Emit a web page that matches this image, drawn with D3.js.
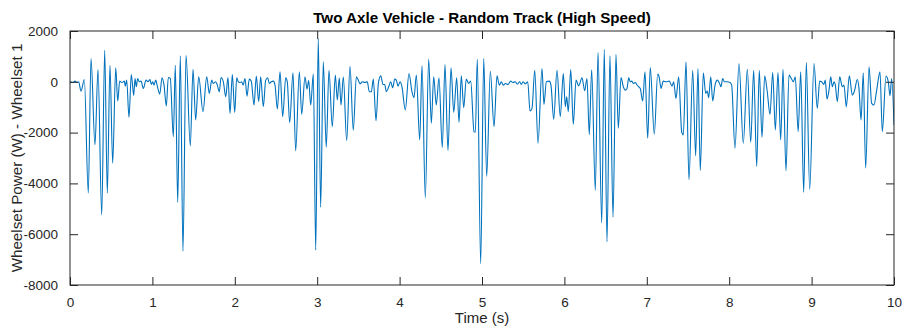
<!DOCTYPE html>
<html>
<head>
<meta charset="utf-8">
<script src="https://cdn.jsdelivr.net/npm/d3@7"></script>
<style>
  html, body { margin: 0; padding: 0; background: #ffffff; }
  svg { display: block; font-family: "Liberation Sans", Arial, Helvetica, sans-serif; }
</style>
</head>
<body>
<svg id="chart" width="902" height="329"></svg>
<script>
// Wheelset 1 power trace: sample times (s) and power values (W)
const times = [
  0.000, 0.033, 0.061, 0.085, 0.105, 0.133, 0.174, 0.222, 0.255, 0.303,
  0.340, 0.385, 0.421, 0.453, 0.485, 0.518, 0.555, 0.579, 0.603, 0.631,
  0.659, 0.671, 0.688, 0.716, 0.744, 0.773, 0.789, 0.805, 0.821, 0.841,
  0.862, 0.890, 0.922, 0.947, 0.971, 0.987, 1.003, 1.019, 1.040, 1.060,
  1.089, 1.117, 1.141, 1.169, 1.193, 1.217, 1.254, 1.278, 1.307, 1.339,
  1.371, 1.408, 1.460, 1.493, 1.525, 1.562, 1.614, 1.659, 1.691, 1.720,
  1.739, 1.768, 1.788, 1.812, 1.833, 1.861, 1.890, 1.917, 1.942, 1.970,
  1.999, 2.023, 2.043, 2.063, 2.084, 2.100, 2.124, 2.148, 2.176, 2.200,
  2.233, 2.261, 2.290, 2.314, 2.346, 2.375, 2.399, 2.419, 2.443, 2.467,
  2.488, 2.516, 2.549, 2.581, 2.618, 2.637, 2.666, 2.706, 2.739, 2.783,
  2.812, 2.852, 2.876, 2.897, 2.921, 2.953, 2.982, 3.013, 3.042, 3.074,
  3.110, 3.143, 3.183, 3.220, 3.244, 3.268, 3.289, 3.317, 3.358, 3.398,
  3.438, 3.475, 3.499, 3.519, 3.547, 3.576, 3.608, 3.632, 3.657, 3.681,
  3.714, 3.742, 3.771, 3.799, 3.819, 3.839, 3.868, 3.892, 3.916, 3.941,
  3.960, 3.981, 4.005, 4.029, 4.069, 4.114, 4.150, 4.175, 4.203, 4.244,
  4.272, 4.312, 4.353, 4.385, 4.414, 4.445, 4.478, 4.518, 4.551, 4.587,
  4.624, 4.657, 4.693, 4.721, 4.749, 4.778, 4.809, 4.839, 4.863, 4.903,
  4.919, 4.943, 4.984, 5.021, 5.057, 5.101, 5.146, 5.182, 5.210, 5.234,
  5.259, 5.283, 5.316, 5.348, 5.376, 5.404, 5.429, 5.458, 5.477, 5.498,
  5.526, 5.555, 5.583, 5.607, 5.640, 5.680, 5.728, 5.752, 5.781, 5.817,
  5.837, 5.870, 5.910, 5.950, 5.987, 6.011, 6.028, 6.047, 6.077, 6.108,
  6.141, 6.173, 6.214, 6.246, 6.274, 6.302, 6.331, 6.375, 6.408, 6.453,
  6.484, 6.517, 6.553, 6.590, 6.626, 6.654, 6.687, 6.715, 6.739, 6.760,
  6.780, 6.800, 6.817, 6.836, 6.861, 6.877, 6.902, 6.921, 6.950, 6.978,
  7.011, 7.042, 7.091, 7.132, 7.152, 7.172, 7.200, 7.233, 7.273, 7.306,
  7.326, 7.354, 7.387, 7.424, 7.443, 7.476, 7.512, 7.557, 7.593, 7.621,
  7.649, 7.686, 7.715, 7.734, 7.751, 7.776, 7.800, 7.828, 7.856, 7.888,
  7.900, 7.921, 7.941, 7.970, 8.010, 8.030, 8.070, 8.119, 8.171, 8.220,
  8.261, 8.297, 8.334, 8.365, 8.398, 8.431, 8.462, 8.495, 8.528, 8.560,
  8.592, 8.625, 8.653, 8.689, 8.726, 8.754, 8.778, 8.802, 8.837, 8.868,
  8.904, 8.936, 8.977, 9.029, 9.069, 9.098, 9.122, 9.147, 9.166, 9.187,
  9.211, 9.232, 9.251, 9.272, 9.288, 9.312, 9.341, 9.373, 9.393, 9.421,
  9.458, 9.494, 9.523, 9.554, 9.575, 9.600, 9.627, 9.656, 9.697, 9.729,
  9.757, 9.790, 9.830, 9.858, 9.903, 9.931, 9.951, 9.972, 10.000
];

const power = [
  0, -26, 26, -26, 0, -366, 91, -4378, 915, -2483,
  484, -5241, 1242, -4378, 653, -3202, 549, -758, 26, -26,
  26, -170, 65, -1398, 288, -536, 131, -196, 131, 0,
  26, -261, 65, 0, 91, -105, 0, -131, 65, -170,
  -484, 157, -131, -954, 170, 131, -2160, 653, -4745, 1019,
  -6666, 1046, -2523, 497, -1503, 196, -1176, 196, -457, 65,
  -65, 0, -131, -392, 170, 0, -588, 170, -1241, 288,
  -1202, 157, 0, -26, 0, -131, 131, -562, 105, 26,
  -915, 222, -784, 196, -980, 65, 157, -65, 0, 26,
  -131, -1072, 392, -1372, 157, 0, -1608, 353, -2719, 392,
  -1281, 196, -288, 52, -915, 301, -6627, 1699, -4941, 784,
  -2575, 457, -1764, 261, -719, 157, -915, 196, -2313, 614,
  -1908, 196, 65, -78, 0, -26, 0, -392, -392, 105,
  -1529, -65, 235, -105, -105, -392, -196, 0, -235, 105,
  65, -170, 0, -196, -1111, 327, -392, -627, 261, -2287,
  627, -4575, 889, -1634, 196, -915, 157, -2588, 680, -2706,
  549, -1202, 157, -1595, 235, -1019, 105, -65, 26, -1961,
  -1987, 889, -7162, 915, -3725, 418, -1764, 235, -131, 0,
  -131, -65, -105, 26, -26, 0, -91, 0, -105, 0,
  -78, 0, -1150, -1046, 457, -2418, 523, -889, 0, 26,
  -131, -1477, 457, -1372, 327, -980, -588, -1176, 484, -1673,
  65, -157, 157, -353, 131, -2078, 470, -4274, 1150, -5555,
  1268, -6300, 1019, -5320, 1072, -1830, 170, -196, -327, -261,
  157, 0, 26, -65, -26, -105, -196, -261, -758, 392,
  -2222, 562, -2065, 301, 157, -261, 26, 0, 26, -170,
  0, -654, 196, -1987, -2091, 784, -3856, 457, -2914, 523,
  -3490, 353, -457, -366, -627, 196, -758, -131, 65, -105,
  -196, 131, 0, 0, -26, -131, -2614, 719, -2418, 497,
  -2379, 457, -3333, 457, -2183, 235, -392, -1281, 366, -1895,
  366, -2287, 497, -3503, 261, 131, 0, 196, -1961, 392,
  -4353, 758, -4235, 719, -1046, 26, 0, -105, 65, -680,
  -327, 196, -196, 0, -131, -784, 196, -196, -131, -980,
  235, -523, -327, 91, -261, -1503, 353, -3398, 588, -850,
  -915, -327, 392, -1961, 222, 0, -549, 131, -1700
];

const xTicks = [0, 1, 2, 3, 4, 5, 6, 7, 8, 9, 10];
const yTicks = [-8000, -6000, -4000, -2000, 0, 2000];

const titleText = "Two Axle Vehicle - Random Track (High Speed)";
const xLabelText = "Time (s)";
const yLabelText = "Wheelset Power (W) - Wheelset 1";

// Layout of the axes box
const margin = { left: 70, right: 8, top: 31, bottom: 44 };
const W = 902, H = 329;
const innerW = W - margin.left - margin.right;
const innerH = H - margin.top - margin.bottom;

const axisColor = "#262626";
const lineColor = "#0072BD";
const tickLen = 8;
const fontStack = "'Liberation Sans', Arial, Helvetica, sans-serif";

const svg = d3.select("#chart");
const g = svg.append("g").attr("transform", `translate(${margin.left},${margin.top})`);

const x = d3.scaleLinear().domain([0, 10]).range([0, innerW]);
const y = d3.scaleLinear().domain([-8000, 2000]).range([innerH, 0]);

const data = times.map((t, i) => ({ t, v: power[i] }));

// Clip the trace to the axes box
svg.append("defs").append("clipPath").attr("id", "plotClip")
  .append("rect").attr("x", 0).attr("y", 0).attr("width", innerW).attr("height", innerH);

// Signal trace
const line = d3.line().curve(d3.curveMonotoneX).x(d => x(d.t)).y(d => y(d.v));
g.append("path")
  .datum(data)
  .attr("clip-path", "url(#plotClip)")
  .attr("fill", "none")
  .attr("stroke", lineColor)
  .attr("stroke-width", 1.1)
  .attr("stroke-linejoin", "round")
  .attr("d", line);

// Plain hyphen-minus tick labels
const plainFormat = d => String(d);

// Axes: ticks point inward, mirrored on top and right
function styleAxis(sel) {
  sel.select(".domain").remove();
  sel.selectAll(".tick line").attr("stroke", axisColor).attr("stroke-width", 1);
  sel.selectAll(".tick text")
    .attr("fill", axisColor)
    .style("font-size", "13.5px")
    .style("font-family", fontStack);
}

const xBottom = g.append("g").attr("transform", `translate(0,${innerH})`)
  .call(d3.axisBottom(x).tickValues(xTicks).tickFormat(plainFormat).tickSizeInner(-tickLen).tickSizeOuter(0).tickPadding(12));
styleAxis(xBottom);

const xTop = g.append("g")
  .call(d3.axisTop(x).tickValues(xTicks).tickFormat("").tickSizeInner(-tickLen).tickSizeOuter(0));
styleAxis(xTop);

const yLeft = g.append("g")
  .call(d3.axisLeft(y).tickValues(yTicks).tickFormat(plainFormat).tickSizeInner(-tickLen).tickSizeOuter(0).tickPadding(12));
styleAxis(yLeft);

const yRight = g.append("g").attr("transform", `translate(${innerW},0)`)
  .call(d3.axisRight(y).tickValues(yTicks).tickFormat("").tickSizeInner(-tickLen).tickSizeOuter(0));
styleAxis(yRight);

// Axes box
g.append("rect")
  .attr("x", 0).attr("y", 0).attr("width", innerW).attr("height", innerH)
  .attr("fill", "none").attr("stroke", axisColor).attr("stroke-width", 1);

// Title and axis labels
svg.append("text")
  .attr("x", margin.left + innerW / 2).attr("y", 23)
  .attr("text-anchor", "middle")
  .attr("fill", "#000000")
  .style("font-size", "15.2px").style("font-weight", "bold")
  .text(titleText);

svg.append("text")
  .attr("x", margin.left + innerW / 2).attr("y", 323)
  .attr("text-anchor", "middle")
  .attr("fill", axisColor)
  .style("font-size", "15px")
  .text(xLabelText);

svg.append("text")
  .attr("transform", `translate(22,${margin.top + innerH / 2}) rotate(-90)`)
  .attr("text-anchor", "middle")
  .attr("fill", axisColor)
  .style("font-size", "15.2px")
  .text(yLabelText);
</script>
</body>
</html>
